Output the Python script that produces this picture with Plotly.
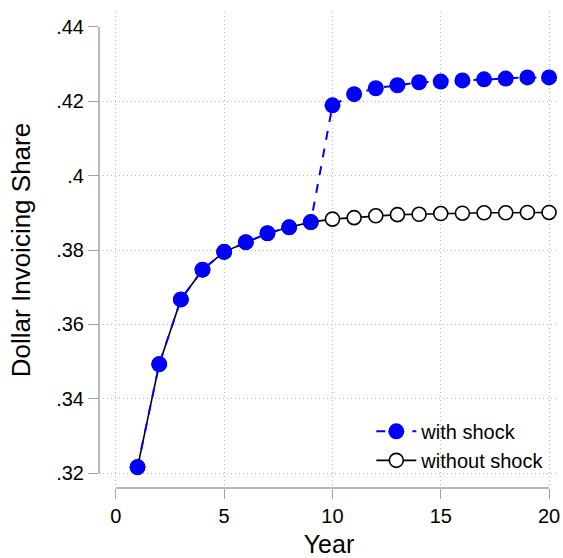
import plotly.graph_objects as go

years = list(range(1, 21))
with_shock = [0.3216, 0.3493, 0.3667, 0.3747, 0.3795, 0.3821, 0.3845, 0.3861, 0.3875,
              0.4189, 0.4219, 0.4235, 0.4243, 0.4251, 0.4253, 0.4256, 0.4259, 0.4261, 0.4264, 0.4264]
without_shock = [0.3216, 0.3493, 0.3667, 0.3747, 0.3795, 0.3821, 0.3845, 0.3861, 0.3875,
                 0.3883, 0.3887, 0.3892, 0.3895, 0.3896, 0.3898, 0.3899, 0.3900, 0.3900, 0.3901, 0.3901]
y_ticks = [0.32, 0.34, 0.36, 0.38, 0.40, 0.42, 0.44]
y_labels = [".32", ".34", ".36", ".38", ".4", ".42", ".44"]
y_grid = [0.32, 0.34, 0.36, 0.38, 0.40, 0.42]
x_ticks = [0, 5, 10, 15, 20]

font = "Liberation Sans, Arial, sans-serif"
fig = go.Figure()
fig.add_trace(go.Scatter(
    x=years, y=without_shock, mode="lines+markers", name="without shock",
    line=dict(color="black", width=1.6),
    marker=dict(symbol="circle", size=14, color="white", line=dict(color="black", width=1.6)),
    legendrank=2))
fig.add_trace(go.Scatter(
    x=years, y=with_shock, mode="lines+markers", name="with shock",
    line=dict(color="#0000ff", width=2, dash="dash"),
    marker=dict(symbol="circle", size=16, color="#0000ff"),
    legendrank=1))

common = dict(showgrid=False, zeroline=False, showline=False, ticks="outside", ticklen=10,
              tickcolor="#a0a0a0", tickwidth=1.2,
              tickfont=dict(size=20, color="black", family=font))
minor_grid = dict(showgrid=True, gridcolor="#b8b8b8", griddash="1px,3px", gridwidth=1, ticks="",
                  tickmode="array")
fig.update_xaxes(range=[-0.78, 20.46], tickvals=x_ticks,
                 minor=dict(tickvals=x_ticks, **minor_grid),
                 title=dict(text="Year", font=dict(size=25), standoff=10), **common)
fig.update_yaxes(range=[0.316, 0.444], tickvals=y_ticks, ticktext=y_labels,
                 minor=dict(tickvals=y_grid, **minor_grid),
                 title=dict(text="Dollar Invoicing Share", font=dict(size=26), standoff=18), **common)

fig.add_shape(type="line", xref="paper", yref="y", x0=0, x1=0, y0=0.32, y1=0.44,
              line=dict(color="#a0a0a0", width=1.5), layer="above")
fig.add_shape(type="line", xref="x", yref="paper", x0=0, x1=20, y0=0, y1=0,
              line=dict(color="#a0a0a0", width=1.5), layer="above")

fig.update_layout(
    width=563, height=558,
    margin=dict(l=99, r=3, t=12, b=66),
    plot_bgcolor="white", paper_bgcolor="white",
    font=dict(family=font, color="black"),
    legend=dict(x=0.592, y=0.16, xanchor="left", yanchor="top", font=dict(size=20),
                bgcolor="rgba(255,255,255,0)", itemwidth=40),
)
fig.write_html("out.html", config={"displayModeBar": False},
               post_script="document.body.style.margin='0';document.body.style.overflow='hidden';")
